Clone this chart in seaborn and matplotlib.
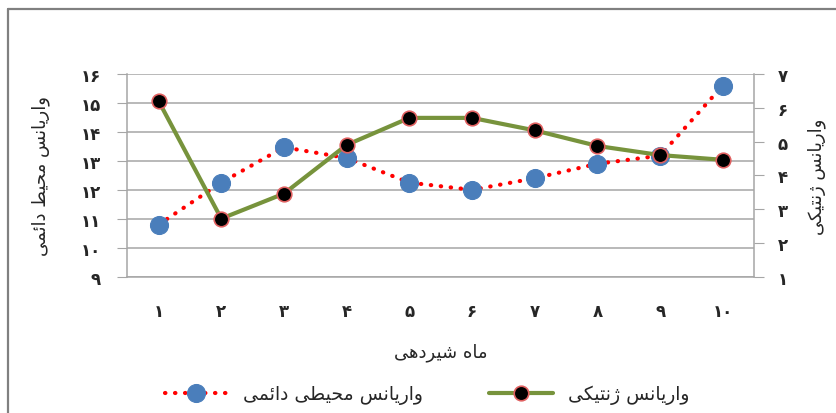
import matplotlib
matplotlib.use("Agg")
import matplotlib.pyplot as plt
import seaborn as sns
import pandas as pd
from matplotlib.lines import Line2D

# data
months = list(range(1, 11))
perm_env = [10.8, 12.25, 13.47, 13.1, 12.25, 12.0, 12.4, 12.9, 13.18, 15.6]
genetic = [6.2, 2.72, 3.46, 4.9, 5.7, 5.7, 5.33, 4.87, 4.6, 4.46]
fa_digits = "۰۱۲۳۴۵۶۷۸۹"

# minimal arabic shaping (matplotlib has no bidi / joining support)
FORMS = {
    "ا": ("\uFE8D", "\uFE8E", None, None),
    "ت": ("\uFE95", "\uFE96", "\uFE97", "\uFE98"),
    "ح": ("\uFEA1", "\uFEA2", "\uFEA3", "\uFEA4"),
    "د": ("\uFEA9", "\uFEAA", None, None),
    "ر": ("\uFEAD", "\uFEAE", None, None),
    "ژ": ("\uFB8A", "\uFB8B", None, None),
    "س": ("\uFEB1", "\uFEB2", "\uFEB3", "\uFEB4"),
    "ش": ("\uFEB5", "\uFEB6", "\uFEB7", "\uFEB8"),
    "ط": ("\uFEC1", "\uFEC2", "\uFEC3", "\uFEC4"),
    "م": ("\uFEE1", "\uFEE2", "\uFEE3", "\uFEE4"),
    "ن": ("\uFEE5", "\uFEE6", "\uFEE7", "\uFEE8"),
    "ه": ("\uFEE9", "\uFEEA", "\uFEEB", "\uFEEC"),
    "و": ("\uFEED", "\uFEEE", None, None),
    "ئ": ("\uFE89", "\uFE8A", "\uFE8B", "\uFE8C"),
    "ی": ("\uFBFC", "\uFBFD", "\uFBFE", "\uFBFF"),
    "ک": ("\uFB8E", "\uFB8F", "\uFB90", "\uFB91"),
}


def fa(text):
    out = []
    for i, ch in enumerate(text):
        if ch not in FORMS:
            out.append(ch)
            continue
        prev = text[i - 1] if i > 0 else ""
        nxt = text[i + 1] if i + 1 < len(text) else ""
        jp = prev in FORMS and FORMS[prev][2] is not None
        jn = FORMS[ch][2] is not None and nxt in FORMS
        iso, fin, ini, med = FORMS[ch]
        if jp and jn:
            out.append(med)
        elif jp:
            out.append(fin)
        elif jn:
            out.append(ini)
        else:
            out.append(iso)
    return "".join(out)[::-1]


def fa_num(n):
    return "".join(fa_digits[int(d)] for d in str(n))


sns.set_style("white")
plt.rcParams["font.family"] = ["DejaVu Sans"]

df = pd.DataFrame({"month": months, "perm": perm_env, "gen": genetic})

fig = plt.figure(figsize=(8.37, 4.14), dpi=100)
ax = fig.add_axes([0.152, 0.329, 0.749, 0.49])
ax2 = ax.twinx()

grid_c = "#a6a6a6"
sns.lineplot(data=df, x="month", y="perm", ax=ax, color="red", lw=3,
             dashes=False, linestyle=(0, (0.1, 2.3)), dash_capstyle="round",
             marker="o", markersize=13, markerfacecolor="#4a7ebb",
             markeredgecolor="#4a7ebb", label=fa("واریانس محیطی دائمی"),
             legend=False)
sns.lineplot(data=df, x="month", y="gen", ax=ax2, color="#77933c", lw=3,
             marker="o", markersize=10.5, markerfacecolor="black",
             markeredgecolor="#e06060", markeredgewidth=1.2,
             label=fa("واریانس ژنتیکی"), legend=False)

ax.set_xlim(0.5, 10.5)
ax.set_ylim(9, 16)
ax2.set_ylim(1, 7)
ax.set_xticks(months)
ax.set_xticklabels([fa_num(m) for m in months], fontsize=12, fontweight="bold")
ax.set_yticks(range(9, 17))
ax.set_yticklabels([fa_num(v) for v in range(9, 17)], fontsize=12, fontweight="bold")
ax2.set_yticks(range(1, 8))
ax2.set_yticklabels([fa_num(v) for v in range(1, 8)], fontsize=12, fontweight="bold")

ax.yaxis.grid(True, color=grid_c, lw=1.1)
ax.xaxis.grid(False)
for a in (ax, ax2):
    for s in a.spines.values():
        s.set_visible(False)
ax.spines["left"].set_visible(True)
ax.spines["bottom"].set_visible(True)
ax2.spines["right"].set_visible(True)
for s in (ax.spines["left"], ax.spines["bottom"], ax2.spines["right"]):
    s.set_color(grid_c)
    s.set_linewidth(1.1)
ax.tick_params(axis="y", length=7, color=grid_c, pad=12, left=True)
ax.tick_params(axis="x", length=0, pad=18)
ax2.tick_params(axis="y", length=7, color=grid_c, pad=10, right=True)

ax.set_xlabel(fa("ماه شیردهی"), fontsize=13, labelpad=16)
ax.set_ylabel(fa("واریانس محیط دائمی"), fontsize=13, labelpad=22)
ax2.set_ylabel(fa("واریانس ژنتیکی"), fontsize=13, rotation=90, labelpad=14)

h1, l1 = ax.get_legend_handles_labels()
h2, l2 = ax2.get_legend_handles_labels()
fig.legend(h1 + h2, l1 + l2, loc="center", bbox_to_anchor=(0.51, 0.045),
           ncol=2, frameon=False, fontsize=13.5, handlelength=3.4,
           columnspacing=3.5)

# outer frame of the original picture
fig.add_artist(Line2D([8 / 837, 1], [1 - 10 / 414, 1 - 10 / 414],
                      transform=fig.transFigure, color="#808080", lw=1.6))
fig.add_artist(Line2D([8 / 837, 8 / 837], [0, 1 - 10 / 414],
                      transform=fig.transFigure, color="#808080", lw=1.6))

fig.savefig("out.png", dpi=100)
